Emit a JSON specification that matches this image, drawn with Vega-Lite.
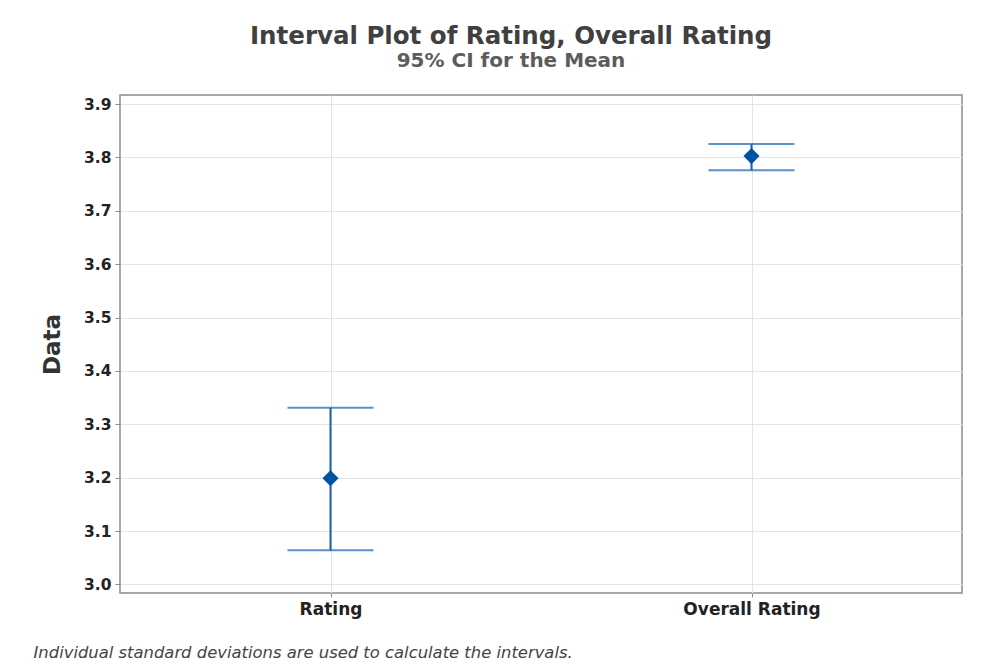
{
  "$schema": "https://vega.github.io/schema/vega-lite/v6.json",
  "width": 842,
  "height": 498,
  "autosize": {"type": "none"},
  "padding": {"left": 120, "top": 95, "right": 35, "bottom": 72},
  "background": "white",
  "title": {
    "text": "Interval Plot of Rating, Overall Rating",
    "subtitle": "95% CI for the Mean",
    "anchor": "middle",
    "frame": "group",
    "dx": -30,
    "offset": 23,
    "font": "DejaVu Sans",
    "fontSize": 24.5,
    "fontWeight": "bold",
    "color": "#404040",
    "subtitleFont": "DejaVu Sans",
    "subtitleFontSize": 20,
    "subtitleFontWeight": "bold",
    "subtitleColor": "#5c5c5c",
    "subtitlePadding": 2
  },
  "config": {
    "view": {"stroke": "#8c8c8c", "strokeWidth": 1.5},
    "font": "DejaVu Sans",
    "axis": {
      "domain": false,
      "grid": true,
      "gridColor": "#e4e4e4",
      "gridWidth": 1,
      "tickColor": "#8c8c8c",
      "tickSize": 5,
      "labelFont": "DejaVu Sans",
      "labelColor": "#222222",
      "labelFontWeight": "bold"
    }
  },
  "data": {
    "values": [
      {"variable": "Rating", "mean": 3.199, "lower": 3.064, "upper": 3.331},
      {"variable": "Overall Rating", "mean": 3.8025, "lower": 3.776, "upper": 3.825}
    ]
  },
  "encoding": {
    "x": {
      "field": "variable",
      "type": "nominal",
      "sort": ["Rating", "Overall Rating"],
      "scale": {"type": "point", "padding": 0.5},
      "axis": {
        "title": "Individual standard deviations are used to calculate the intervals.",
        "titleFont": "DejaVu Sans",
        "titleFontStyle": "italic",
        "titleFontWeight": "normal",
        "titleFontSize": 16.4,
        "titleColor": "#444444",
        "titleAnchor": "start",
        "titleAlign": "left",
        "titleBaseline": "alphabetic",
        "titleX": -87,
        "titleY": 64,
        "labelAngle": 0,
        "labelFontSize": 17,
        "labelPadding": 4,
        "tickSize": 4
      }
    }
  },
  "layer": [
    {
      "mark": {"type": "rule", "color": "#1a5fae", "strokeWidth": 2},
      "encoding": {
        "y": {
          "field": "lower",
          "type": "quantitative",
          "scale": {"domain": [2.984, 3.917], "nice": false, "zero": false},
          "axis": {
            "title": "Data",
            "titleFont": "DejaVu Sans",
            "titleFontSize": 23,
            "titleFontWeight": "bold",
            "titleColor": "#333333",
            "titlePadding": 19,
            "values": [3.0, 3.1, 3.2, 3.3, 3.4, 3.5, 3.6, 3.7, 3.8, 3.9],
            "format": ".1f",
            "labelFontSize": 15.5,
            "labelPadding": 4
          }
        },
        "y2": {"field": "upper"}
      }
    },
    {
      "mark": {"type": "tick", "color": "#1a5fae", "size": 86, "thickness": 2, "orient": "horizontal"},
      "encoding": {"y": {"field": "lower", "type": "quantitative"}}
    },
    {
      "mark": {"type": "tick", "color": "#1a5fae", "size": 86, "thickness": 2, "orient": "horizontal"},
      "encoding": {"y": {"field": "upper", "type": "quantitative"}}
    },
    {
      "mark": {"type": "point", "shape": "diamond", "filled": true, "opacity": 1, "color": "#0052a3", "size": 260},
      "encoding": {"y": {"field": "mean", "type": "quantitative"}}
    }
  ]
}
